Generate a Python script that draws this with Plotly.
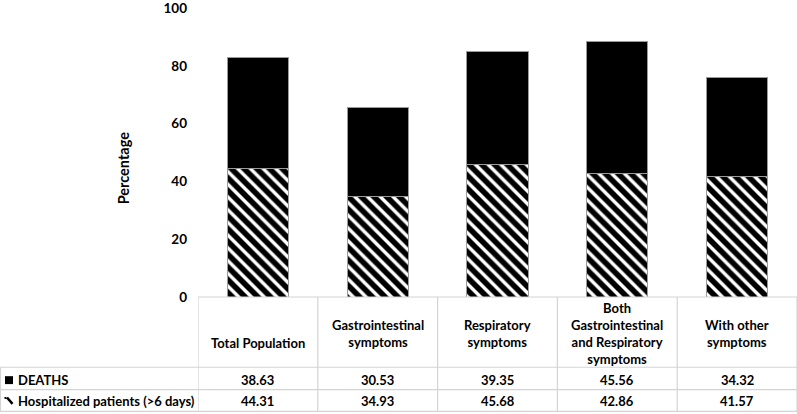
import plotly.graph_objects as go

categories = ["Total Population", "Gastrointestinal<br>symptoms", "Respiratory<br>symptoms",
              "Both<br>Gastrointestinal<br>and Respiratory<br>symptoms", "With other<br>symptoms"]
deaths = [38.63, 30.53, 39.35, 45.56, 34.32]
hospitalized = [44.31, 34.93, 45.68, 42.86, 41.57]
deaths_label = "DEATHS"
hosp_label = "Hospitalized patients (>6 days)"
y_ticks = [0, 20, 40, 60, 80, 100]

W, H = 797, 414
L, R, T, B = 198, 0, 5, 117
PW, PH = W - L - R, H - T - B
def py(p):  # pixel y -> paper
    return (H - B - p) / PH
def px(p):  # pixel x -> paper
    return (p - L) / PW

FONT = "Lato"
grid = "#d4d4d4"
xs = list(range(len(categories)))

fig = go.Figure()
fig.add_bar(x=xs, y=hospitalized, name=hosp_label, width=0.51,
            marker=dict(color="white", line=dict(color="#9a9a9a", width=1),
                        pattern=dict(shape="\\", fgcolor="#000000", fgopacity=1, bgcolor="white",
                                     size=9, solidity=0.62)))
fig.add_bar(x=xs, y=deaths, name=deaths_label, width=0.51,
            marker=dict(color="black", line=dict(color="#9a9a9a", width=1)))

shapes = []
ann = []
# table lines
y_top, y_r1, y_r2, y_bot = 297, 368, 390.5, 412.5
for yy, x0 in [(y_top, L), (y_r1, 0), (y_r2, 0), (y_bot, 0)]:
    shapes.append(dict(type="line", xref="paper", yref="paper", x0=px(x0), x1=1, y0=py(yy), y1=py(yy),
                       line=dict(color=grid, width=1.2)))
for i in range(len(categories) + 1):
    xx = i - 0.5
    shapes.append(dict(type="line", xref="x", yref="paper", x0=xx, x1=xx, y0=py(y_top), y1=py(y_bot),
                       line=dict(color=grid, width=1.2)))
shapes.append(dict(type="line", xref="paper", yref="paper", x0=px(0.5), x1=px(0.5), y0=py(y_r1), y1=py(y_bot),
                   line=dict(color=grid, width=1.2)))

tf = dict(family=FONT, size=13, color="black")
for i, c in enumerate(categories):
    n = c.count("<br>") + 1
    cy = 343 if n == 1 else 333.5
    ann.append(dict(x=i, y=py(cy), xref="x", yref="paper", text="<b>" + c + "</b>", showarrow=False,
                    font=tf, xanchor="center", yanchor="middle", align="center"))
    ann.append(dict(x=i, y=py(380.5), xref="x", yref="paper", text="<b>%.2f</b>" % deaths[i], showarrow=False,
                    font=tf, xanchor="center", yanchor="middle"))
    ann.append(dict(x=i, y=py(402), xref="x", yref="paper", text="<b>%.2f</b>" % hospitalized[i], showarrow=False,
                    font=tf, xanchor="center", yanchor="middle"))
# row labels
ann.append(dict(x=px(16), y=py(380.5), xref="paper", yref="paper", text="<b>" + deaths_label + "</b>",
                showarrow=False, font=tf, xanchor="left", yanchor="middle"))
ann.append(dict(x=px(16), y=py(402), xref="paper", yref="paper", text="<b>" + hosp_label + "</b>",
                showarrow=False, font=tf, xanchor="left", yanchor="middle"))
# legend keys
shapes.append(dict(type="rect", xref="paper", yref="paper", x0=px(5), x1=px(13), y0=py(385), y1=py(377),
                   fillcolor="black", line=dict(width=0)))
shapes.append(dict(type="line", xref="paper", yref="paper", x0=px(7), x1=px(12.5), y0=py(398.5), y1=py(405),
                   line=dict(color="black", width=2.5)))
shapes.append(dict(type="rect", xref="paper", yref="paper", x0=px(4.5), x1=px(6.5), y0=py(400), y1=py(398),
                   fillcolor="black", line=dict(width=0)))

ann.append(dict(x=px(123), y=py(167), xref="paper", yref="paper", text="<b>Percentage</b>", textangle=-90,
                showarrow=False, font=dict(family=FONT, size=14.5, color="black"), xanchor="center", yanchor="middle"))

fig.update_layout(
    width=W, height=H, margin=dict(l=L, r=R, t=T, b=B),
    barmode="stack", showlegend=False, bargap=0.49,
    plot_bgcolor="white", paper_bgcolor="white",
    shapes=shapes, annotations=ann,
    xaxis=dict(range=[-0.5, len(categories) - 0.5], showticklabels=False, showgrid=False, zeroline=False,
               showline=False, fixedrange=True),
    yaxis=dict(range=[0, 100], tickvals=y_ticks, showgrid=False, zeroline=False, showline=False,
               ticklabeloverflow="allow",
               tickfont=dict(family=FONT, size=13.5, color="black", weight="bold"), ticklabelstandoff=10),
)
fig.write_html("out.html", config={"displayModeBar": False},
               post_script="document.body.style.margin='0px';document.body.style.overflow='hidden';")
